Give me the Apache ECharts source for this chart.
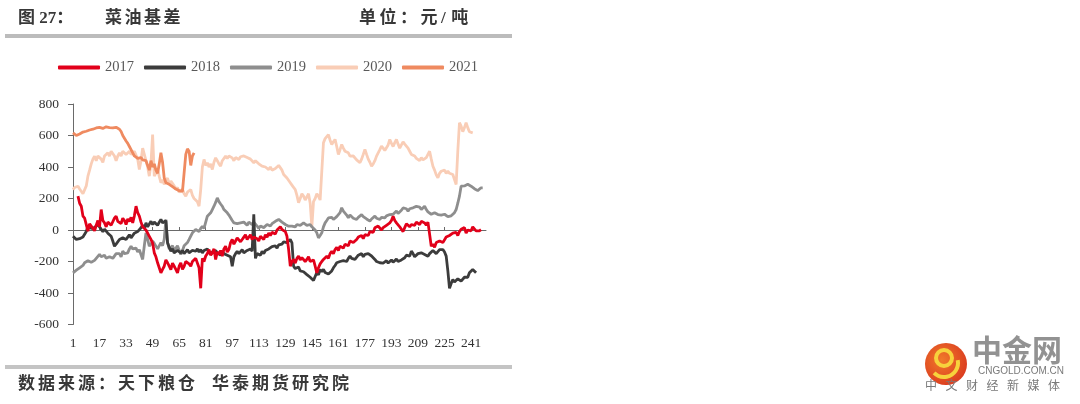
<!DOCTYPE html>
<html><head><meta charset="utf-8">
<script src="https://cdn.jsdelivr.net/npm/echarts@6/dist/echarts.min.js"></script>
<style>html,body{margin:0;padding:0;background:#fff}#c{width:1080px;height:404px}</style>
</head><body><div id="c"></div>
<script>
// ---- data: [day, value] (元/吨) ----
const dayCount = 250;
const yTicks = [-600, -400, -200, 0, 200, 400, 600, 800];
const seriesNames = ['2017', '2018', '2019', '2020', '2021'];
const s2017 = [[4,215],[5,170],[6,151],[7,88],[8,75],[9,67],[10,-7],[11,40],[12,30],[13,10],[14,-5],[15,30],[16,60],[17,20],[18,130],[19,60],[20,45],[21,20],[22,50],[23,60],[24,30],[25,40],[26,75],[27,88],[28,55],[29,67],[30,40],[31,75],[32,60],[33,35],[34,70],[35,55],[36,80],[37,45],[38,90],[39,151],[40,110],[41,88],[42,50],[43,20],[44,30],[45,0],[46,-20],[47,-40],[48,-60],[49,-83],[50,-145],[51,-170],[52,-208],[53,-240],[54,-272],[55,-250],[56,-230],[57,-190],[58,-208],[59,-230],[60,-251],[61,-210],[62,-230],[63,-250],[64,-272],[65,-230],[66,-208],[67,-250],[68,-230],[69,-200],[70,-190],[71,-215],[72,-230],[73,-200],[74,-208],[75,-180],[76,-190],[77,-240],[78,-370],[79,-180],[80,-200],[81,-165],[82,-150],[83,-124],[84,-160],[85,-145],[86,-120],[87,-187],[88,-140],[89,-155],[90,-130],[91,-166],[92,-120],[93,-103],[94,-140],[95,-124],[96,-80],[97,-60],[98,-90],[99,-70],[100,-50],[101,-40],[102,-75],[103,-60],[104,-45],[105,-30],[106,-60],[107,-50],[108,-30],[109,-60],[110,-45],[111,-35],[112,-55],[113,-70],[114,-40],[115,-39],[116,-60],[117,-30],[118,-45],[119,-20],[120,-35],[121,-15],[122,-10],[123,-25],[124,0],[125,10],[126,20],[127,3],[128,15],[129,-10],[130,-40],[131,-124],[132,-230],[133,-200],[134,-187],[135,-210],[136,-180],[137,-166],[138,-190],[139,-175],[140,-166],[141,-200],[142,-187],[143,-170],[144,-200],[145,-208],[146,-190],[147,-230],[148,-272],[149,-240],[150,-215],[151,-200],[152,-187],[153,-175],[154,-166],[155,-180],[156,-150],[157,-135],[158,-150],[159,-124],[160,-110],[161,-130],[162,-103],[163,-95],[164,-115],[165,-90],[166,-80],[167,-100],[168,-70],[169,-60],[170,-80],[171,-85],[172,-60],[173,-45],[174,-50],[175,-35],[176,-55],[177,-30],[178,-20],[179,-35],[180,-10],[181,0],[182,-15],[183,14],[184,5],[185,25],[186,20],[187,0],[188,15],[189,10],[190,30],[191,20],[192,45],[193,60],[194,88],[195,60],[196,45],[197,35],[198,20],[199,5],[200,-10],[201,15],[202,40],[203,30],[204,20],[205,35],[206,45],[207,30],[208,50],[209,40],[210,35],[211,55],[212,60],[213,45],[214,30],[215,50],[216,40],[217,-103],[218,-90],[219,-110],[220,-80],[221,-90],[222,-70],[223,-60],[224,-80],[225,-70],[226,-45],[227,-50],[228,-35],[229,-40],[230,-20],[231,-30],[232,-15],[233,-35],[234,-10],[235,5],[236,0],[237,15],[238,-20],[239,0],[240,10],[241,-5],[242,20],[243,10],[244,-5],[245,5],[246,-5],[247,3]];
const s2018 = [[1,-39],[2,-50],[3,-60],[4,-71],[5,-55],[6,-60],[7,-45],[8,-39],[9,-10],[10,24],[11,15],[12,10],[13,0],[14,15],[15,20],[16,35],[17,20],[18,10],[19,-10],[20,5],[21,0],[22,-20],[23,-15],[24,-40],[25,-70],[26,-103],[27,-90],[28,-80],[29,-60],[30,-70],[31,-50],[32,-40],[33,-60],[34,-45],[35,-30],[36,-50],[37,-40],[38,-20],[39,-30],[40,-10],[41,-20],[42,14],[43,30],[44,10],[45,45],[46,20],[47,30],[48,55],[49,35],[50,50],[51,45],[52,30],[53,50],[54,67],[55,45],[56,40],[57,60],[58,-81],[59,-110],[60,-134],[61,-120],[62,-145],[63,-155],[64,-130],[65,-140],[66,-145],[67,-130],[68,-150],[69,-140],[70,-125],[71,-145],[72,-150],[73,-130],[74,-140],[75,-135],[76,-120],[77,-140],[78,-124],[79,-145],[80,-130],[81,-135],[82,-120],[83,-130],[84,-155],[85,-140],[86,-150],[87,-130],[88,-145],[89,-140],[90,-160],[91,-135],[92,-150],[93,-140],[94,-160],[95,-150],[96,-170],[97,-230],[98,-170],[99,-150],[100,-135],[101,-150],[102,-140],[103,-125],[104,-145],[105,-155],[106,-130],[107,-140],[108,-120],[109,-135],[110,100],[111,-180],[112,-150],[113,-145],[114,-160],[115,-135],[116,-150],[117,-130],[118,-140],[119,-120],[120,-125],[121,-105],[122,-110],[123,-100],[124,-115],[125,-95],[126,-85],[127,-90],[128,-75],[129,-65],[130,-80],[131,-70],[132,-60],[133,-81],[134,-230],[135,-245],[136,-251],[137,-235],[138,-260],[139,-250],[140,-265],[141,-270],[142,-283],[143,-275],[144,-300],[145,-310],[146,-320],[147,-295],[148,-270],[149,-285],[150,-251],[151,-265],[152,-250],[153,-270],[154,-260],[155,-280],[156,-290],[157,-260],[158,-240],[159,-225],[160,-208],[161,-220],[162,-200],[163,-208],[164,-195],[165,-187],[166,-200],[167,-180],[168,-166],[169,-180],[170,-170],[171,-187],[172,-175],[173,-160],[174,-166],[175,-150],[176,-170],[177,-155],[178,-165],[179,-150],[180,-145],[181,-165],[182,-175],[183,-187],[184,-200],[185,-195],[186,-208],[187,-200],[188,-210],[189,-208],[190,-195],[191,-210],[192,-208],[193,-190],[194,-205],[195,-198],[196,-185],[197,-200],[198,-208],[199,-190],[200,-180],[201,-176],[202,-160],[203,-170],[204,-166],[205,-134],[206,-150],[207,-170],[208,-166],[209,-150],[210,-160],[211,-145],[212,-135],[213,-155],[214,-145],[215,-166],[216,-150],[217,-145],[218,-130],[219,-135],[220,-150],[221,-145],[222,-125],[223,-135],[224,-124],[225,-140],[226,-166],[227,-260],[228,-370],[229,-340],[230,-315],[231,-330],[232,-335],[233,-310],[234,-315],[235,-325],[236,-335],[237,-300],[238,-290],[239,-300],[240,-272],[241,-260],[242,-251],[243,-262],[244,-272]];
const s2019 = [[1,-272],[2,-265],[3,-255],[4,-250],[5,-240],[6,-235],[7,-225],[8,-208],[9,-215],[10,-195],[11,-187],[12,-205],[13,-200],[14,-193],[15,-180],[16,-170],[17,-155],[18,-170],[19,-175],[20,-160],[21,-180],[22,-187],[23,-170],[24,-165],[25,-180],[26,-172],[27,-150],[28,-160],[29,-150],[30,-170],[31,-134],[32,-150],[33,-140],[34,-145],[35,-120],[36,-103],[37,-120],[38,-130],[39,-115],[40,-140],[41,-125],[42,-134],[43,-187],[44,-100],[45,-18],[46,-60],[47,-103],[48,-90],[49,-71],[50,-85],[51,-90],[52,-120],[53,-110],[54,-80],[55,-100],[56,-60],[57,66],[58,-79],[59,-120],[60,-110],[61,-100],[62,-130],[63,-124],[64,-100],[65,-110],[66,-155],[67,-130],[68,-100],[69,-110],[70,-80],[71,-60],[72,-39],[73,-18],[74,-20],[75,3],[76,-5],[77,-10],[78,10],[79,24],[80,10],[81,20],[82,88],[83,95],[84,109],[85,130],[86,151],[87,175],[88,204],[89,180],[90,165],[91,151],[92,130],[93,120],[94,109],[95,95],[96,88],[97,60],[98,45],[99,55],[100,40],[101,30],[102,45],[103,35],[104,50],[105,40],[106,30],[107,50],[108,45],[109,35],[110,50],[111,40],[112,25],[113,10],[114,25],[115,30],[116,15],[117,20],[118,35],[119,30],[120,25],[121,40],[122,45],[123,55],[124,60],[125,67],[126,55],[127,50],[128,45],[129,35],[130,30],[131,24],[132,35],[133,25],[134,15],[135,20],[136,35],[137,45],[138,30],[139,40],[140,45],[141,35],[142,30],[143,24],[144,35],[145,20],[146,14],[147,0],[148,-18],[149,-50],[150,-35],[151,-18],[152,20],[153,45],[154,60],[155,77],[156,65],[157,80],[158,67],[159,70],[160,85],[161,77],[162,110],[163,141],[164,120],[165,109],[166,95],[167,77],[168,95],[169,88],[170,75],[171,80],[172,67],[173,80],[174,90],[175,98],[176,85],[177,77],[178,70],[179,60],[180,56],[181,70],[182,80],[183,88],[184,75],[185,70],[186,67],[187,80],[188,70],[189,77],[190,90],[191,85],[192,98],[193,110],[194,100],[195,109],[196,120],[197,105],[198,98],[199,125],[200,140],[201,151],[202,135],[203,120],[204,135],[205,145],[206,141],[207,130],[208,150],[209,162],[210,145],[211,130],[212,140],[213,151],[214,130],[215,115],[216,109],[217,100],[218,98],[219,110],[220,105],[221,98],[222,90],[223,95],[224,88],[225,100],[226,98],[227,85],[228,77],[229,90],[230,98],[231,110],[232,130],[233,170],[234,215],[235,278],[236,285],[237,280],[238,289],[239,290],[240,280],[241,278],[242,270],[243,262],[244,255],[245,250],[246,260],[247,268],[248,268]];
const s2020 = [[1,257],[2,270],[3,265],[4,278],[5,260],[6,250],[7,230],[8,236],[9,280],[10,342],[11,380],[12,420],[13,450],[14,469],[15,440],[16,470],[17,479],[18,450],[19,430],[20,470],[21,460],[22,490],[23,470],[24,500],[25,510],[26,470],[27,440],[28,470],[29,490],[30,470],[31,500],[32,511],[33,480],[34,490],[35,500],[36,480],[37,469],[38,500],[39,490],[40,450],[41,384],[42,440],[43,520],[44,480],[45,469],[46,400],[47,342],[48,420],[49,606],[50,342],[51,360],[52,384],[53,340],[54,300],[55,320],[56,290],[57,300],[58,330],[59,290],[60,310],[61,320],[62,280],[63,257],[64,270],[65,240],[66,236],[67,260],[68,230],[69,215],[70,240],[71,230],[72,257],[73,220],[74,200],[75,194],[76,180],[77,151],[78,257],[79,400],[80,448],[81,410],[82,427],[83,400],[84,420],[85,384],[86,430],[87,458],[88,440],[89,420],[90,405],[91,440],[92,450],[93,469],[94,455],[95,470],[96,460],[97,458],[98,440],[99,460],[100,450],[101,448],[102,465],[103,460],[104,470],[105,480],[106,460],[107,469],[108,450],[109,440],[110,427],[111,440],[112,430],[113,420],[114,410],[115,405],[116,415],[117,400],[118,395],[119,384],[120,400],[121,380],[122,373],[123,390],[124,395],[125,410],[126,405],[127,380],[128,352],[129,340],[130,330],[131,321],[132,300],[133,285],[134,270],[135,257],[136,220],[137,173],[138,200],[139,230],[140,215],[141,190],[142,200],[143,230],[144,170],[145,20],[146,180],[147,200],[148,230],[149,215],[150,190],[151,200],[152,554],[153,580],[154,590],[155,606],[156,570],[157,543],[158,560],[159,575],[160,530],[161,479],[162,510],[163,543],[164,520],[165,500],[166,511],[167,490],[168,469],[169,480],[170,470],[171,460],[172,445],[173,440],[174,427],[175,450],[176,480],[177,511],[178,480],[179,450],[180,430],[181,405],[182,420],[183,440],[184,469],[185,490],[186,510],[187,533],[188,520],[189,505],[190,500],[191,540],[192,575],[193,550],[194,530],[195,555],[196,575],[197,545],[198,520],[199,540],[200,560],[201,545],[202,540],[203,520],[204,500],[205,480],[206,469],[207,470],[208,455],[209,450],[210,440],[211,460],[212,445],[213,436],[214,460],[215,480],[216,500],[217,450],[218,405],[219,380],[220,350],[221,331],[222,360],[223,373],[224,365],[225,380],[226,360],[227,373],[228,360],[229,365],[230,352],[231,320],[232,289],[233,500],[234,681],[235,660],[236,624],[237,650],[238,681],[239,650],[240,624],[241,620],[242,617]];
const s2021 = [[1,617],[2,605],[3,600],[4,612],[5,610],[6,618],[7,622],[8,615],[9,627],[10,630],[11,635],[12,632],[13,640],[14,645],[15,648],[16,640],[17,652],[18,650],[19,645],[20,650],[21,655],[22,648],[23,650],[24,645],[25,648],[26,640],[27,652],[28,645],[29,640],[30,625],[31,600],[32,590],[33,565],[34,550],[35,530],[36,510],[37,490],[38,470],[39,462],[40,455],[41,450],[42,460],[43,445],[44,455],[45,440],[46,445],[47,380],[48,440],[49,400],[50,420],[51,380],[52,360],[53,420],[54,490],[55,430],[56,330],[57,300],[58,310],[59,290],[60,300],[61,275],[62,270],[63,260],[64,255],[65,250],[66,240],[67,245],[68,250],[69,480],[70,515],[71,500],[72,410],[73,470],[74,490]];

const categories = Array.from({length: dayCount}, (_, i) => String(i + 1));
const colors = {'2017':'#e2001a','2018':'#3c3c3c','2019':'#8e8e8e','2020':'#f9cdb6','2021':'#ef8a60'};
const zOrder = {'2017':6,'2018':5,'2019':4,'2020':2,'2021':3};
const dataMap = {'2017':s2017,'2018':s2018,'2019':s2019,'2020':s2020,'2021':s2021};

const chart = echarts.init(document.getElementById('c'), null, {renderer:'canvas'});
const serif = '"Liberation Serif","Times New Roman",serif';
const cjk = '"Liberation Serif","Noto Sans CJK SC",sans-serif';

const graphics = [];
// place each character of a string at a fixed advance (CJK full step, ASCII half step)
function placeChars(str, x0, y, step, font, fill) {
  let x = x0;
  for (const ch of str) {
    graphics.push({type:'text', x:x, y:y, style:{text:ch, font:font, fill:fill, verticalAlign:'middle'}});
    x += /[\x00-\x7f]/.test(ch) ? step * 0.5 : step;
  }
}
const titleFont = 'bold 17px ' + cjk;
graphics.push({type:'text', x:18, y:19, style:{text:'图 27：', font:titleFont, fill:'#383838', verticalAlign:'middle'}});
placeChars('菜油基差', 105, 19, 19.5, titleFont, '#383838');
placeChars('单位：元/吨', 359, 19, 20.5, titleFont, '#383838');
graphics.push({type:'rect', shape:{x:5, y:34, width:507, height:4}, style:{fill:'#bcbcbc'}});
graphics.push({type:'rect', shape:{x:5, y:365, width:507, height:4}, style:{fill:'#c4c4c4'}});
placeChars('数据来源：', 18, 385, 20, titleFont, '#383838');
placeChars('天下粮仓', 118, 385, 20, titleFont, '#383838');
placeChars('华泰期货研究院', 212, 385, 20, titleFont, '#383838');
// logo
graphics.push({type:'circle', shape:{cx:946, cy:364, r:21}, style:{fill:new echarts.graphic.RadialGradient(0.4,0.4,0.7,[{offset:0,color:'#f07a2a'},{offset:1,color:'#d9361f'}])}});
graphics.push({type:'arc', shape:{cx:944, cy:358, r:8, startAngle:0, endAngle:Math.PI*2}, style:{stroke:'#f7d23c', lineWidth:4, fill:null}});
graphics.push({type:'arc', shape:{cx:944, cy:363, r:14, startAngle:-0.2, endAngle:Math.PI*0.75, clockwise:true}, style:{stroke:'#f7d23c', lineWidth:4, fill:null}});
graphics.push({type:'text', x:972, y:350, style:{text:'中金网', font:'bold 30px "Noto Sans CJK SC",sans-serif', fill:'#929292', verticalAlign:'middle'}});
graphics.push({type:'text', x:1021, y:371, style:{text:'CNGOLD.COM.CN', font:'10px "Liberation Sans",sans-serif', fill:'#7a7a7a', align:'center', verticalAlign:'middle'}});
placeChars('中文财经新媒体', 925, 385, 20.5, '12px "Noto Sans CJK SC",sans-serif', '#7a7a7a');

chart.setOption({
  animation:false,
  backgroundColor:'#fff',
  legend:{
    data:seriesNames, left:53, top:55, itemWidth:42, itemHeight:4, itemGap:10, icon:'roundRect',
    textStyle:{fontFamily:serif, fontSize:14.5, color:'#595959'}
  },
  grid:{left:73, right:594, top:104, bottom:79.5, containLabel:false},
  xAxis:[
    {type:'category', data:categories, boundaryGap:false, position:'bottom',
     axisLine:{show:false, onZero:false}, axisTick:{show:false},
     axisLabel:{interval:15, margin:12, fontFamily:serif, fontSize:13.5, color:'#333'}, splitLine:{show:false}},
    {type:'category', data:categories, boundaryGap:false, position:'top',
     axisLine:{show:true, onZero:true, lineStyle:{color:'#6a6a6a', width:1}},
     axisTick:{show:true, interval:15, length:3, lineStyle:{color:'#6a6a6a'}},
     axisLabel:{show:false}, splitLine:{show:false}}
  ],
  yAxis:{type:'value', min:-600, max:800, interval:200,
    axisLine:{show:true, lineStyle:{color:'#6a6a6a', width:1}},
    axisTick:{show:true, length:5, lineStyle:{color:'#6a6a6a'}},
    axisLabel:{margin:14, fontFamily:serif, fontSize:13.5, color:'#333', formatter:v => yTicks.includes(v) ? String(v) : ''},
    splitLine:{show:false}},
  series: seriesNames.map(n => ({
    name:n, type:'line', xAxisIndex:0, showSymbol:false, symbol:'none', z:zOrder[n],
    data: dataMap[n].map(p => [p[0] - 1, p[1]]),
    itemStyle:{color:colors[n]}, lineStyle:{color:colors[n], width:2.8}
  })),
  graphic: graphics
});
</script></body></html>
